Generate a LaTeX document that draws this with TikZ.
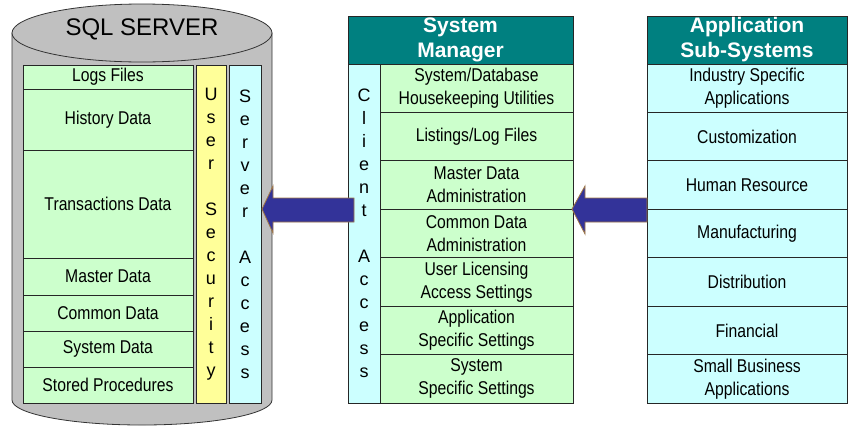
\documentclass[tikz,border=0pt]{standalone}
\usepackage{fontspec}
\setmainfont{Liberation Sans}
\newfontfamily\narrowfont{Liberation Sans}[FakeStretch=0.85]
\newcommand\cellfont{\narrowfont\fontsize{18.5}{23}\selectfont}
\newcommand\letterfont{\fontsize{18}{23}\selectfont}
\newcommand\headfont{\bfseries\fontsize{21}{25}\selectfont}
\definecolor{cellgreen}{RGB}{204,255,204}
\definecolor{cellcyan}{RGB}{204,255,255}
\definecolor{cellyellow}{RGB}{255,255,153}
\definecolor{headteal}{RGB}{0,128,128}
\definecolor{cylgray}{RGB}{192,192,192}
\definecolor{arrowblue}{RGB}{51,51,153}
\definecolor{arrowedge}{RGB}{160,120,70}
\begin{document}
\begin{tikzpicture}[x=1pt,y=-1pt,
  box/.style={draw=black!85, line width=0.8pt, inner sep=0pt, align=center},
  gcell/.style={box, fill=cellgreen, minimum width=170pt, font=\cellfont},
  mcell/.style={box, fill=cellgreen, minimum width=193pt, minimum height=48.43pt, font=\cellfont},
  acell/.style={box, fill=cellcyan, minimum width=200pt, minimum height=48.43pt, font=\cellfont},
  vcol/.style={box, minimum height=338pt, font=\letterfont},
  headbox/.style={box, fill=headteal, text=white, minimum height=48pt, font=\headfont},
  cyl/.style={draw=black!80, line width=0.8pt, fill=cylgray},
  blockarrow/.style={draw=arrowedge, line width=0.8pt, fill=arrowblue}]
\useasboundingbox (0,0) rectangle (850,426);
% SQL server cylinder
\path[cyl] (12,33) -- (12,400) arc[start angle=180,end angle=0,x radius=130,y radius=25] -- (272,33) -- cycle;
\path[cyl] (142,33) ellipse [x radius=130, y radius=29];
\node[font=\fontsize{24}{28}\selectfont, inner sep=0pt] (sqltitle) at (142,29) {SQL SERVER};
% data rows
\node[gcell, minimum height=24pt] (logs) at (108,77) {Logs Files};
\node[gcell, minimum height=61pt] (hist) at (108,119.5) {History Data};
\node[gcell, minimum height=108pt] (trans) at (108,204) {Transactions Data};
\node[gcell, minimum height=37pt] (master) at (108,276.5) {Master Data};
\node[gcell, minimum height=36pt] (common) at (108,313) {Common Data};
\node[gcell, minimum height=36pt] (sysdata) at (108,349) {System Data};
\node[gcell, minimum height=36pt] (stored) at (108,385) {Stored Procedures};
\node[vcol, fill=cellyellow, minimum width=30pt] (usec) at (211,234) {U\\s\\e\\r\\~\\S\\e\\c\\u\\r\\i\\t\\y};
\node[vcol, fill=cellcyan, minimum width=32pt] (sacc) at (245,234) {S\\e\\r\\v\\e\\r\\~\\A\\c\\c\\e\\s\\s};
% System manager
\node[headbox, minimum width=225pt] (smhead) at (460.5,40) {System\\Manager};
\node[vcol, fill=cellcyan, minimum width=32pt, minimum height=339pt] (cacc) at (364,233.5) {C\\l\\i\\e\\n\\t\\~\\A\\c\\c\\e\\s\\s};
\node[mcell] (m1) at (476.5,88.2) {System/Database\\Housekeeping Utilities};
\node[mcell] (m2) at (476.5,136.6) {Listings/Log Files};
\node[mcell] (m3) at (476.5,185.1) {Master Data\\Administration};
\node[mcell] (m4) at (476.5,233.5) {Common Data\\Administration};
\node[mcell] (m5) at (476.5,281.9) {User Licensing\\Access Settings};
\node[mcell] (m6) at (476.5,330.4) {Application\\Specific Settings};
\node[mcell] (m7) at (476.5,378.8) {System\\Specific Settings};
% Application sub-systems
\node[headbox, minimum width=200pt] (ashead) at (747,40) {Application\\Sub-Systems};
\node[acell] (a1) at (747,88.2) {Industry Specific\\Applications};
\node[acell] (a2) at (747,136.6) {Customization};
\node[acell] (a3) at (747,185.1) {Human Resource};
\node[acell] (a4) at (747,233.5) {Manufacturing};
\node[acell] (a5) at (747,281.9) {Distribution};
\node[acell] (a6) at (747,330.4) {Financial};
\node[acell] (a7) at (747,378.8) {Small Business\\Applications};
% block arrows
\path[blockarrow] (262,209) -- (273,186) -- (273,198) -- (354,198) -- (354,222) -- (273,222) -- (273,233) -- cycle;
\path[blockarrow] (572,209) -- (585,186) -- (585,198) -- (647,198) -- (647,222) -- (585,222) -- (585,234) -- cycle;
\end{tikzpicture}
\end{document}
